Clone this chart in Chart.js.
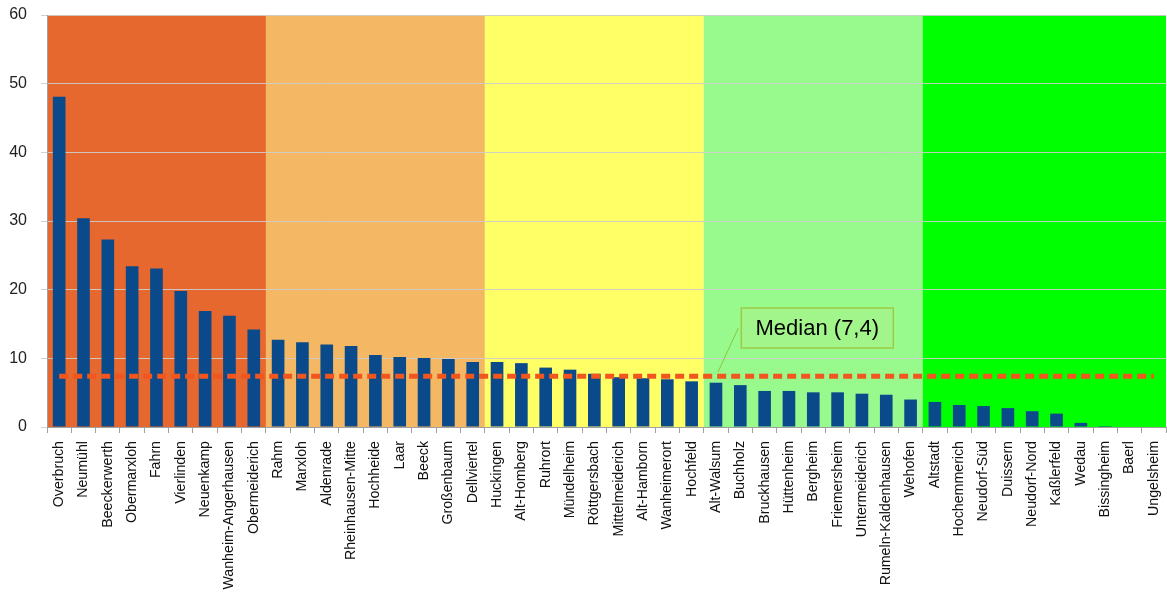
<!DOCTYPE html>
<html>
<head>
<meta charset="utf-8">
<script src="https://cdn.jsdelivr.net/npm/chart.js@4/dist/chart.umd.min.js"></script>
<style>
  html, body { margin: 0; padding: 0; background: #fff; }
  #wrap { width: 1167px; height: 594px; }
</style>
</head>
<body>
<div id="wrap"><canvas id="chart" width="1167" height="594"></canvas></div>
<script>
// === Stadtteile, sortiert ===
const districts = [
    'Overbruch', 'Neumühl', 'Beeckerwerth', 'Obermarxloh', 'Fahrn', 'Vierlinden', 'Neuenkamp', 'Wanheim-Angerhausen', 'Obermeiderich',
    'Rahm', 'Marxloh', 'Aldenrade', 'Rheinhausen-Mitte', 'Hochheide', 'Laar', 'Beeck', 'Großenbaum', 'Dellviertel',
    'Huckingen', 'Alt-Homberg', 'Ruhrort', 'Mündelheim', 'Röttgersbach', 'Mittelmeiderich', 'Alt-Hamborn', 'Wanheimerort', 'Hochfeld',
    'Alt-Walsum', 'Buchholz', 'Bruckhausen', 'Hüttenheim', 'Bergheim', 'Friemersheim', 'Untermeiderich', 'Rumeln-Kaldenhausen', 'Wehofen',
    'Altstadt', 'Hochemmerich', 'Neudorf-Süd', 'Duissern', 'Neudorf-Nord', 'Kaßlerfeld', 'Wedau', 'Bissingheim', 'Baerl', 'Ungelsheim'
];

const values = [
    48.1, 30.4, 27.3, 23.4, 23.1, 19.8, 16.9, 16.2, 14.2,
    12.7, 12.35, 12.0, 11.8, 10.5, 10.2, 10.05, 9.9, 9.45,
    9.45, 9.3, 8.65, 8.35, 7.75, 7.25, 7.1, 6.95, 6.65,
    6.45, 6.1, 5.25, 5.25, 5.05, 5.05, 4.85, 4.7, 4.0,
    3.65, 3.2, 3.05, 2.75, 2.3, 1.95, 0.6, 0.15, 0, 0
];

const median = 7.4;
const medianLabel = 'Median (7,4)';

// y axis
const yMin = 0;
const yMax = 60;
const yStep = 10;

// coloured groups: first category index of each band
const bandStarts = [0, 9, 18, 27, 36];
const bandColors = ['#E6682F', '#F4B864', '#FFFF66', '#98FA8C', '#00FF00'];

const barColor = '#0B4A8A';
const medianColor = '#F0561E';

// background bands behind the grid
const bandsPlugin = {
    id: 'bands',
    beforeDraw(chart) {
        const { ctx, chartArea, scales } = chart;
        const x = scales.x;
        ctx.save();
        bandStarts.forEach((start, i) => {
            const end = i + 1 < bandStarts.length ? bandStarts[i + 1] : districts.length;
            const left = start === 0 ? chartArea.left : (x.getPixelForValue(start - 1) + x.getPixelForValue(start)) / 2;
            const right = end === districts.length ? chartArea.right : (x.getPixelForValue(end - 1) + x.getPixelForValue(end)) / 2;
            ctx.fillStyle = bandColors[i];
            ctx.fillRect(left, chartArea.top, right - left, chartArea.bottom - chartArea.top);
        });
        ctx.restore();
    }
};

// callout box for the median
const medianCallout = {
    id: 'medianCallout',
    afterDatasetsDraw(chart) {
        const { ctx, scales } = chart;
        const x = scales.x, y = scales.y;
        const boxLeft = x.getPixelForValue(28) + 1;
        const boxBottom = y.getPixelForValue(11.5);
        const boxW = 152, boxH = 40;
        const boxTop = boxBottom - boxH;

        ctx.save();
        // leader line
        ctx.strokeStyle = '#8CC63F';
        ctx.lineWidth = 1;
        ctx.beginPath();
        ctx.moveTo(boxLeft - 3, y.getPixelForValue(14.4));
        ctx.lineTo(x.getPixelForValue(27) + 2, y.getPixelForValue(8.0));
        ctx.stroke();

        ctx.fillStyle = '#A2F58A';
        ctx.fillRect(boxLeft, boxTop, boxW, boxH);
        ctx.strokeStyle = '#9CCB45';
        ctx.lineWidth = 1.5;
        ctx.strokeRect(boxLeft, boxTop, boxW, boxH);

        ctx.fillStyle = '#000';
        ctx.font = '22px "Liberation Sans", Arial, sans-serif';
        ctx.textAlign = 'center';
        ctx.textBaseline = 'middle';
        ctx.fillText(medianLabel, boxLeft + boxW / 2, boxTop + boxH / 2 + 1);
        ctx.restore();
    }
};

const ctx = document.getElementById('chart').getContext('2d');
const chart = new Chart(ctx, {
    type: 'bar',
    data: {
        labels: districts,
        datasets: [
            {
                type: 'line',
                label: 'Median',
                data: districts.map(() => median),
                borderColor: medianColor,
                borderWidth: 5,
                borderDash: [9, 5],
                pointRadius: 0,
                fill: false,
                order: 0
            },
            {
                type: 'bar',
                label: 'Wert',
                data: values,
                backgroundColor: barColor,
                barPercentage: 0.52,
                categoryPercentage: 1.0,
                order: 1
            }
        ]
    },
    options: {
        responsive: false,
        animation: false,
        layout: { padding: { left: 0, right: 1, top: 15, bottom: 0 } },
        plugins: {
            legend: { display: false },
            tooltip: { enabled: false }
        },
        scales: {
            x: {
                grid: {
                    display: true,
                    drawOnChartArea: false,
                    tickLength: 6,
                    color: '#A0A0A0'
                },
                border: { color: '#A0A0A0' },
                ticks: {
                    autoSkip: false,
                    minRotation: 90,
                    maxRotation: 90,
                    padding: 8,
                    color: '#111',
                    font: { family: '"Liberation Sans", Arial, sans-serif', size: 14.2 }
                },
                afterFit(scale) {
                    scale.height = 167;
                    scale.paddingLeft = 0;
                    scale.paddingRight = 0;
                }
            },
            y: {
                min: yMin,
                max: yMax,
                grid: {
                    color: 'rgba(205,205,205,0.9)',
                    tickLength: 6
                },
                border: { color: '#A0A0A0' },
                ticks: {
                    stepSize: yStep,
                    padding: 14,
                    color: '#222',
                    font: { family: '"Liberation Sans", Arial, sans-serif', size: 16 }
                },
                afterFit(scale) {
                    scale.width = 47;
                    scale.paddingTop = 0;
                    scale.paddingBottom = 0;
                }
            }
        }
    },
    plugins: [bandsPlugin, medianCallout]
});
</script>
</body>
</html>
